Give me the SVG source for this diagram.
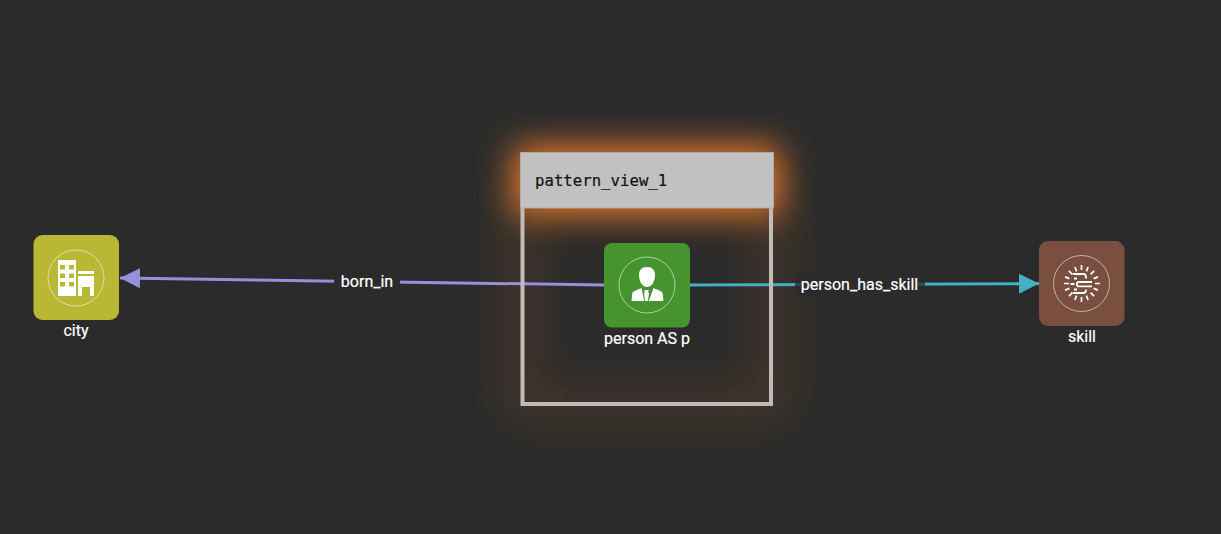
<svg xmlns="http://www.w3.org/2000/svg" width="1221" height="534" viewBox="0 0 1221 534">
<style>
.lbl{font-family:Roboto,"Liberation Sans",sans-serif;font-size:16px;fill:#fff;text-anchor:middle;stroke:#fff;stroke-width:.2}
.ring{fill:none;stroke:#fff;stroke-opacity:.55;stroke-width:1}
.ico{fill:#fff}
.ray{stroke:#fff;stroke-width:1.700;fill:none}
</style>
<defs>
<filter id="glow" x="-40%" y="-120%" width="180%" height="340%"><feGaussianBlur stdDeviation="17"/></filter>
<filter id="glow2" x="-40%" y="-40%" width="180%" height="180%"><feGaussianBlur stdDeviation="22"/></filter>
<marker id="hp" markerUnits="userSpaceOnUse" markerWidth="22" markerHeight="22" refX="20" refY="10" orient="auto"><path d="M0 0L20 10L0 20Z" fill="#9490dc"/></marker>
<marker id="ht" markerUnits="userSpaceOnUse" markerWidth="22" markerHeight="22" refX="20" refY="10" orient="auto"><path d="M0 0L20 10L0 20Z" fill="#43b0c4"/></marker>
</defs>
<rect width="1221" height="534" fill="#2b2b2b"/>
<g id="view-glow">
<rect x="522" y="190" width="250" height="214" fill="none" stroke="#b0602a" stroke-opacity=".36" stroke-width="18" filter="url(#glow2)"/>
<rect x="514" y="146" width="266" height="68" fill="#e87a2c" filter="url(#glow)"/>
</g>
<g id="connectors">
<path d="M604 285L120 278" stroke="#9490dc" stroke-width="3" fill="none" marker-end="url(#hp)"/>
<path d="M690 285L1039 283.600" stroke="#43b0c4" stroke-width="3" fill="none" marker-end="url(#ht)"/>
<rect x="334" y="270" width="66" height="22" fill="#2b2b2b"/>
<rect x="795" y="274" width="130" height="20" fill="#2b2b2b" fill-opacity=".75"/>
<rect x="801" y="272" width="117" height="24" fill="#2b2b2b"/>
<text class="lbl" x="367" y="287">born_in</text>
<text class="lbl" x="859.500" y="290">person_has_skill</text>
</g>
<g id="pattern_view_1">
<path d="M522.500 207V404H771V207" fill="none" stroke="#bfbdb6" stroke-width="4"/>
<rect x="520.500" y="152.500" width="253" height="55.500" fill="#c1c1c1" stroke="#b3a89c" stroke-width="1"/>
<text x="535" y="186" font-family="'DejaVu Sans Mono','Liberation Mono',monospace" font-size="15.700" fill="#111" stroke="#111" stroke-width=".2">pattern_view_1</text>
</g>
<g id="city">
<rect x="33.500" y="235" width="85.500" height="85" rx="9" fill="#b8b834"/>
<circle class="ring" cx="76" cy="278" r="28"/>
<path class="ico" fill-rule="evenodd" d="M58 260H76V296H58ZM60 265v4.500h5v-4.500ZM69 265v4.500h5v-4.500ZM60 273.500v4.500h5v-4.500ZM69 273.500v4.500h5v-4.500ZM60 282v4.500h5v-4.500ZM69 282v4.500h5v-4.500Z"/>
<path class="ico" d="M78 271H94V274H78ZM78 276H94V296H90V287H82V296H78Z"/>
<text class="lbl" x="76" y="336">city</text>
</g>
<g id="person">
<rect x="604" y="243" width="86" height="84.500" rx="8" fill="#459430"/>
<circle class="ring" cx="647" cy="285" r="28"/>
<path class="ico" d="M647 267c-5.500 0-8 3.500-8 8 0 4 1.300 7.500 3 9.500 1.200 1.500 3.300 2.500 5 2.500s3.800-1 5-2.500c1.700-2 3-5.500 3-9.500 0-4.500-2.500-8-8-8Z"/>
<path class="ico" fill-rule="evenodd" d="M641.500 288l-6.500 2.700c-2 .8-2.800 2-3 4l-.4 6.300H663.400l-.4-6.300c-.2-2-1-3.200-3-4l-6.500-2.700-4.700 13h-.8l1-8-1-1.500 1-1.500h-5l1 1.500-1 1.500 1 8h-.8Z"/>
<text class="lbl" x="647" y="344">person AS p</text>
</g>
<g id="skill">
<rect x="1039" y="241" width="85.500" height="85" rx="9" fill="#7a4f40"/>
<circle class="ring" cx="1081.500" cy="283.500" r="28"/>
<path class="ray" d="M1081.500 265v5M1081.500 297v5M1064 283.500h5M1095 283.500h5M1068.900 270.900l3.500 3.500M1090.600 292.600l3.500 3.500M1068.900 296.100l3.500-3.500M1090.600 274.400l3.500-3.500M1074.900 267l1.700 4.400M1086.400 295.600l1.700 4.400M1074.900 300l1.700-4.400M1086.400 271.400l1.700-4.400M1065 276.900l4.400 1.700M1093.600 288.400l4.400 1.700M1065 290.100l4.400-1.700M1093.600 278.600l4.400-1.700"/>
<path d="M1073 274h10a3 3 0 0 1 3 3v1.500M1077 278.500h-3M1092 282h-13a2.200 2.200 0 0 0 0 4.400h13M1070.500 284h4M1073 293h10a3 3 0 0 0 3-3v-.5M1077 289.500h-3" fill="none" stroke="#fff" stroke-width="1.800"/>
<text class="lbl" x="1082" y="342">skill</text>
</g>
</svg>
